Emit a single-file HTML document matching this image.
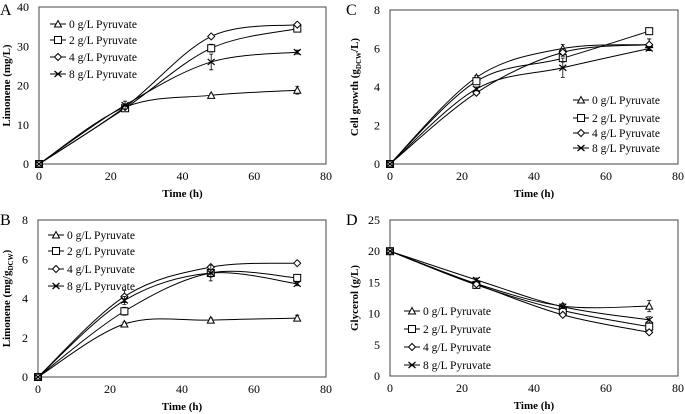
<!DOCTYPE html>
<html><head><meta charset="utf-8"><style>
body{margin:0;background:#fff}
svg{font-family:"Liberation Serif",serif;display:block}
</style></head><body>
<svg id="s" width="685" height="414"></svg>
<script>
const times=[0,24,48,72];
const seriesLabels=["0 g/L Pyruvate","2 g/L Pyruvate","4 g/L Pyruvate","8 g/L Pyruvate"];
const aVals=[[0,14.5,17.5,18.8],[0,14.2,29.5,34.5],[0,14.5,32.5,35.5],[0,15,26,28.5]];
const aErr=[[0,0,0.4,1.0],[0,0.5,1,0.8],[0,0.3,0.5,0.5],[0,1,2,0.5]];
const bVals=[[0,2.7,2.9,3.0],[0,3.35,5.3,5.05],[0,4.1,5.6,5.8],[0,3.9,5.3,4.75]];
const bErr=[[0,0.1,0.1,0.15],[0,0.2,0.2,0.15],[0,0.3,0.1,0.1],[0,0.2,0.4,0.1]];
const cVals=[[0,4.5,6.0,6.2],[0,4.3,5.5,6.9],[0,3.7,5.8,6.2],[0,3.9,5.0,6.0]];
const cErr=[[0,0.1,0.2,0.3],[0,0.1,0.2,0.1],[0,0.1,0.2,0.3],[0,0.1,0.5,0.1]];
const dVals=[[20,14.8,11.2,11.2],[20,14.6,10.5,7.9],[20,14.7,9.8,7.0],[20,15.4,11.1,9.0]];
const dErr=[[0,0.3,0.4,0.9],[0,0.3,0.4,0.6],[0,0.2,0.3,0.3],[0,0.3,0.3,0.5]];
const xTicks=[0,20,40,60,80];
const aTicks=[0,10,20,30,40];
const bTicks=[0,2,4,6,8];
const cTicks=[0,2,4,6,8];
const dTicks=[0,5,10,15,20,25];
const NS="http://www.w3.org/2000/svg";
const svg=document.getElementById('s');
function mk(t,a,p){const e=document.createElementNS(NS,t);for(const k in a)e.setAttribute(k,a[k]);(p||svg).appendChild(e);return e;}
function marker(g,k,x,y){
 if(k===0)mk('path',{d:`M${x-3.5},${y+3}L${x},${y-3.5}L${x+3.5},${y+3}Z`,fill:'#fff',stroke:'#000'},g);
 else if(k===1)mk('rect',{x:x-3.5,y:y-3.5,width:7,height:7,fill:'#fff',stroke:'#000'},g);
 else if(k===2)mk('path',{d:`M${x-3.5},${y}L${x},${y-3.5}L${x+3.5},${y}L${x},${y+3.5}Z`,fill:'#fff',stroke:'#000'},g);
 else mk('path',{d:`M${x-3.5},${y-3}L${x+3.5},${y+3}M${x-3.5},${y+3}L${x+3.5},${y-3}`,stroke:'#000','stroke-width':1.2},g);
}
function smooth(p){let d=`M${p[0][0]},${p[0][1]}`;for(let i=0;i<p.length-1;i++){const p0=p[Math.max(0,i-1)],p1=p[i],p2=p[i+1],p3=p[Math.min(p.length-1,i+2)];
 d+=`C${p1[0]+(p2[0]-p0[0])/6},${p1[1]+(p2[1]-p0[1])/6} ${p2[0]-(p3[0]-p1[0])/6},${p2[1]-(p3[1]-p1[1])/6} ${p2[0]},${p2[1]}`;}return d;}
function panel(o){
 const g=mk('g',{});
 const yMax=o.yt[o.yt.length-1];
 const X=v=>o.l+(o.r-o.l)*v/80, Y=v=>o.b-(o.b-o.t)*v/yMax;
 mk('rect',{x:o.l,y:o.t,width:o.r-o.l,height:o.b-o.t,fill:'none',stroke:'#444','stroke-width':1},g);
 xTicks.forEach(v=>{const t=mk('text',{x:X(v),y:o.b+16,'text-anchor':'middle','font-size':12},g);t.textContent=v;});
 o.yt.forEach(v=>{const t=mk('text',{x:o.l-10,y:Y(v)+4,'text-anchor':'end','font-size':12},g);t.textContent=v;});
 const xt=mk('text',{x:(o.l+o.r)/2,y:o.b+33,'text-anchor':'middle','font-size':11,'font-weight':'bold'},g);xt.textContent='Time (h)';
 const yt=mk('text',{transform:`translate(${o.yx},${(o.t+o.b)/2}) rotate(-90)`,'text-anchor':'middle','font-size':11,'font-weight':'bold'},g);yt.innerHTML=o.ylab;
 const pl=mk('text',{x:o.px,y:o.py,'font-size':16},g);pl.textContent=o.letter;
 o.vals.forEach((s,k)=>{
  const sg=mk('g',{},g);
  
  
  const pts=s.map((v,i)=>[X(times[i]),Y(v)]);
  mk('path',{d:smooth(pts),fill:'none',stroke:'#000','stroke-width':1},sg);
  s.forEach((v,i)=>{const e=o.err[k][i];if(e>0){const x=X(times[i]);
   mk('path',{d:`M${x},${Y(v-e)}L${x},${Y(v+e)}M${x-2},${Y(v-e)}L${x+2},${Y(v-e)}M${x-2},${Y(v+e)}L${x+2},${Y(v+e)}`,stroke:'#000','stroke-width':0.8},sg);}});
  pts.forEach(p=>marker(sg,k,p[0],p[1]));
 });
 o.legY.forEach((y,k)=>{
  const lg=mk('g',{},g);
  
  
  mk('line',{x1:o.legX,x2:o.legX+16,y1:y,y2:y,stroke:'#000'},lg);
  marker(lg,k,o.legX+8,y);
  const t=mk('text',{x:o.legX+19,y:y+4,'font-size':11.5},lg);t.textContent=seriesLabels[k];
 });
}
panel({name:'panel-a',letter:'A',px:0,py:15,l:39,r:326,t:7,b:164,yt:aTicks,vals:aVals,err:aErr,yx:10,ylab:'Limonene (mg/L)',legX:50,legY:[24,40,57,74]});
panel({name:'panel-c',letter:'C',px:346,py:15,l:390,r:678,t:10,b:164,yt:cTicks,vals:cVals,err:cErr,yx:358,ylab:'Cell growth (g<tspan font-size="7" dy="3">DCW</tspan><tspan dy="-3">/L)</tspan>',legX:573,legY:[100,118,133,148]});
panel({name:'panel-b',letter:'B',px:0,py:225,l:38,r:326,t:220,b:377,yt:bTicks,vals:bVals,err:bErr,yx:10,ylab:'Limonene (mg/g<tspan font-size="7" dy="3">DCW</tspan><tspan dy="-3">)</tspan>',legX:48,legY:[235,251,269,286]});
panel({name:'panel-d',letter:'D',px:346,py:225,l:390,r:678,t:220,b:376,yt:dTicks,vals:dVals,err:dErr,yx:358,ylab:'Glycerol (g/L)',legX:404,legY:[311,329,347,365]});
</script>
</body></html>
